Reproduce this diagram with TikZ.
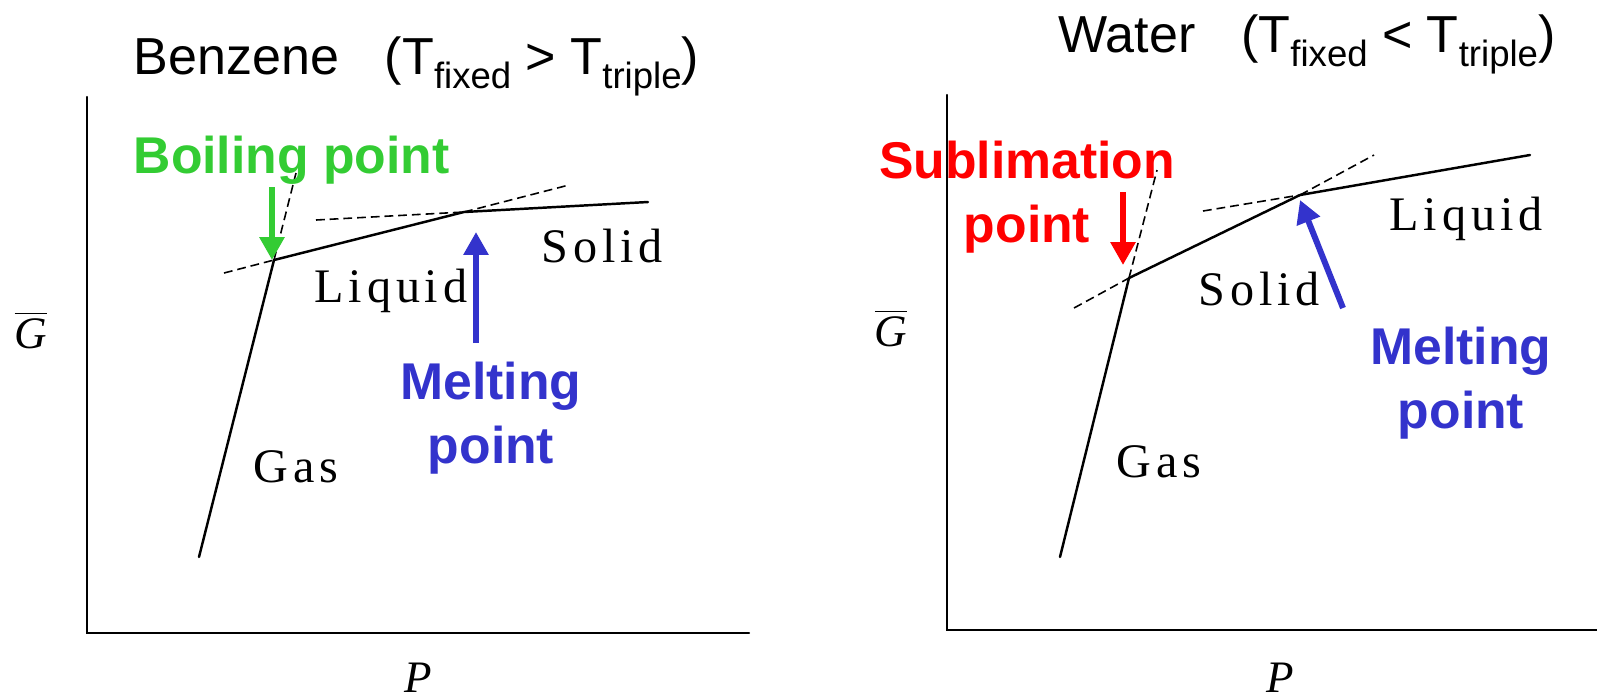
\documentclass[tikz,border=0pt]{standalone}
\usepackage{fontspec}
\setmainfont{Liberation Serif}
\newfontfamily\arialfont{Liberation Sans}
\newfontfamily\phasefont[LetterSpace=10]{Liberation Serif}
\usetikzlibrary{arrows.meta}
\definecolor{boilgreen}{RGB}{51,204,51}
\definecolor{meltblue}{RGB}{51,51,204}
\definecolor{sublred}{RGB}{255,0,0}
\newcommand\lowsub[1]{\raisebox{-4pt}{\fontsize{10.4}{12}\selectfont #1}}
\tikzset{
  curve/.style={line width=0.7pt, line cap=round},
  tangent/.style={line width=0.45pt, dash pattern=on 2.5pt off 1.4pt},
  pointer/.style={line width=1.7pt, -{Triangle[width=6.8pt,length=6.5pt]}},
  phase/.style={anchor=base west, inner sep=0pt,
    font=\phasefont\fontsize{13.7}{16}\selectfont},
  callout/.style={anchor=base, inner sep=0pt, align=center,
    font=\arialfont\bfseries\fontsize{14.7}{18.2}\selectfont},
  heading/.style={anchor=base west, inner sep=0pt,
    font=\arialfont\fontsize{14.8}{17}\selectfont},
  axislabel/.style={inner sep=0pt, font=\fontsize{12.8}{15}\selectfont}
}
\begin{document}
\begin{tikzpicture}[x=0.01cm,y=-0.01cm]
\fill[white] (0,0) rectangle (1597,699);
\useasboundingbox (0,0) rectangle (1597,699);
% ---- benzene (left panel)
\node[heading] (benzT) at (133,74)
  {Benzene\hspace{13pt}(T\lowsub{fixed} > T\lowsub{triple})};
\coordinate (bOrig) at (87,633);
\coordinate (bYtop) at (87,97);
\coordinate (bXend) at (749,633);
\draw[curve] (bYtop) -- (bOrig) -- (bXend);
\node[axislabel] (bG) at (31,330) {$\overline{\mbox{\itshape G}}$};
\node[axislabel] (bP) at (418,678) {\itshape P};
\coordinate (bGas0) at (199,557);
\coordinate (bBoil) at (274,260);
\coordinate (bMelt) at (464,212);
\coordinate (bSol1) at (648,202);
\coordinate (bGasX) at (296,173);
\coordinate (bLiqX0) at (224,273);
\coordinate (bLiqX1) at (569,185);
\coordinate (bSolX) at (316,220);
\draw[curve] (bGas0) -- (bBoil) -- (bMelt) -- (bSol1);
\draw[tangent] (bBoil) -- (bGasX);
\draw[tangent] (bLiqX0) -- (bBoil);
\draw[tangent] (bMelt) -- (bLiqX1);
\draw[tangent] (bSolX) -- (bMelt);
\node[phase] (bLiq) at (314,302) {Liquid};
\node[phase] (bSol) at (541,262) {Solid};
\node[phase] (bGas) at (253,482) {Gas};
\node[callout, anchor=base west, text=boilgreen] (bBoilT) at (133,173) {Boiling point};
\coordinate (bBoilA) at (272,187);
\coordinate (bBoilB) at (272,260);
\draw[pointer, boilgreen] (bBoilA) -- (bBoilB);
% base of a two-line callout sits on its last line
\node[callout, text=meltblue] (bMeltT) at (491,463) {Melting\\point};
\coordinate (bMeltA) at (476,343);
\coordinate (bMeltB) at (476,232);
\draw[pointer, meltblue] (bMeltA) -- (bMeltB);
% ---- water (right panel)
\node[heading] (watT) at (1058,52)
  {Water\hspace{13pt}(T\lowsub{fixed} < T\lowsub{triple})};
\coordinate (wOrig) at (947,630);
\coordinate (wYtop) at (947,95);
\coordinate (wXend) at (1597,630);
\draw[curve] (wYtop) -- (wOrig) -- (wXend);
\node[axislabel] (wG) at (891,328) {$\overline{\mbox{\itshape G}}$};
\node[axislabel] (wP) at (1280,678) {\itshape P};
\coordinate (wGas0) at (1060,557);
\coordinate (wSubl) at (1129,278);
\coordinate (wMelt) at (1300,195);
\coordinate (wLiq1) at (1530,155);
\coordinate (wGasX) at (1157,170);
\coordinate (wSolX0) at (1074,308);
\coordinate (wSolX1) at (1374,155);
\coordinate (wLiqX) at (1203,211);
\draw[curve] (wGas0) -- (wSubl) -- (wMelt) -- (wLiq1);
\draw[tangent] (wSubl) -- (wGasX);
\draw[tangent] (wSolX0) -- (wSubl);
\draw[tangent] (wMelt) -- (wSolX1);
\draw[tangent] (wLiqX) -- (wMelt);
\node[phase] (wLiq) at (1389,230) {Liquid};
\node[phase] (wSol) at (1198,305) {Solid};
\node[phase] (wGas) at (1116,477) {Gas};
\node[callout, text=sublred] (wSublT) at (1027,242) {Sublimation\\point};
\coordinate (wSublA) at (1123,192);
\coordinate (wSublB) at (1123,265);
\draw[pointer, sublred] (wSublA) -- (wSublB);
\node[callout, text=meltblue] (wMeltT) at (1461,428) {Melting\\point};
\coordinate (wMeltA) at (1343,308);
\coordinate (wMeltB) at (1300,200);
\draw[pointer, meltblue] (wMeltA) -- (wMeltB);
\end{tikzpicture}
\end{document}
